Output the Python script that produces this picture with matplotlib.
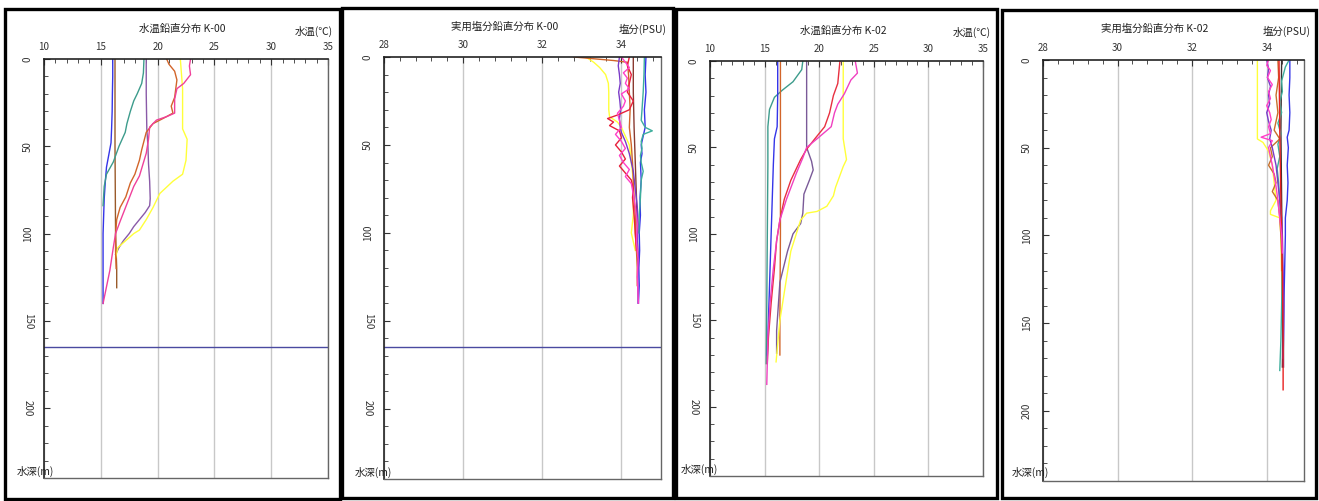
import matplotlib
matplotlib.use('Agg')
import matplotlib.pyplot as plt
import matplotlib.ticker as mticker
from matplotlib.patches import Rectangle

plt.rcParams['font.family'] = ['Noto Sans CJK JP', 'DejaVu Sans']
plt.rcParams['axes.unicode_minus'] = False

# ---- K-00 water temperature (depth m, deg C) ----
t00_blue_z = [0, 10, 20, 30, 40, 48, 55, 62, 70, 80, 90, 100, 110, 120, 130, 140]
t00_blue = [16.05, 16.05, 16.02, 16.0, 15.95, 15.9, 15.7, 15.5, 15.4, 15.3, 15.25, 15.2, 15.2, 15.2, 15.2, 15.2]
t00_brown_z = [0, 50, 100, 120, 131]
t00_brown = [16.25, 16.25, 16.3, 16.4, 16.4]
t00_teal_z = [0, 8, 14, 20, 24, 30, 37, 42, 50, 59, 66, 73, 84]
t00_teal = [18.8, 18.75, 18.6, 18.2, 17.9, 17.6, 17.3, 17.15, 16.6, 16.1, 15.5, 15.3, 15.2]
t00_purple_z = [0, 20, 40, 50, 60, 70, 80, 84, 88, 92, 96, 100, 104, 108, 112]
t00_purple = [19.0, 19.0, 19.05, 19.15, 19.2, 19.3, 19.35, 19.3, 18.9, 18.4, 17.9, 17.5, 17.0, 16.6, 16.3]
t00_orange_z = [0, 3, 7, 12, 22, 27, 31, 34, 37, 42, 52, 58, 66, 71, 79, 85, 92, 100, 110, 120]
t00_orange = [20.8, 21.0, 21.5, 21.7, 21.5, 21.2, 21.35, 20.5, 19.6, 19.0, 18.6, 18.4, 18.0, 17.6, 17.2, 16.7, 16.4, 16.3, 16.3, 16.35]
t00_magenta_z = [0, 4, 9, 14, 17, 23, 31, 33, 35, 39, 46, 54, 67, 73, 83, 93, 100, 108, 121, 140]
t00_magenta = [22.9, 22.8, 22.9, 22.3, 21.7, 21.5, 21.5, 20.8, 19.9, 19.3, 19.2, 19.0, 18.4, 17.9, 17.3, 16.7, 16.3, 16.1, 15.8, 15.2]
t00_yellow_z = [0, 17, 40, 46, 58, 66, 70, 77, 85, 92, 98, 100, 104, 108, 114]
t00_yellow = [22.0, 22.2, 22.2, 22.6, 22.5, 22.2, 21.35, 20.2, 19.6, 19.0, 18.4, 17.9, 17.2, 16.5, 16.3]

# ---- K-00 practical salinity (depth m, PSU) ----
s00_blue_z = [0, 10, 20, 30, 40, 45, 50, 55, 60, 70, 80, 90, 100, 110, 120, 130, 140]
s00_blue = [34.62, 34.6, 34.62, 34.58, 34.6, 34.55, 34.5, 34.52, 34.48, 34.5, 34.47, 34.48, 34.45, 34.46, 34.44, 34.45, 34.43]
s00_teal_z = [0, 10, 20, 30, 36, 40, 42, 44, 48, 52, 56, 60, 65, 70, 80, 90, 100]
s00_teal = [34.58, 34.57, 34.55, 34.52, 34.5, 34.6, 34.78, 34.55, 34.5, 34.52, 34.48, 34.5, 34.55, 34.5, 34.48, 34.45, 34.44]
s00_orange_z = [0, 1, 2, 3, 10, 20, 30, 40, 50, 60, 70, 80, 90, 100, 110, 120, 130]
s00_orange = [32.8, 33.3, 33.8, 34.15, 34.18, 34.2, 34.22, 34.2, 34.25, 34.28, 34.3, 34.32, 34.35, 34.35, 34.38, 34.4, 34.4]
s00_yellow_z = [0, 3, 6, 10, 15, 20, 30, 34, 37, 40, 45, 50, 60, 70, 80, 90, 100, 110]
s00_yellow = [33.1, 33.3, 33.45, 33.6, 33.67, 33.68, 33.68, 33.7, 33.9, 34.0, 34.1, 34.2, 34.25, 34.3, 34.3, 34.3, 34.25, 34.35]
s00_violet_z = [0, 5, 10, 15, 20, 25, 30, 35, 40, 43, 48, 55, 65, 75, 85, 95, 105, 115, 125, 140]
s00_violet = [33.95, 33.92, 33.95, 33.97, 33.93, 33.96, 33.98, 33.95, 33.97, 34.0, 34.1, 34.2, 34.3, 34.35, 34.4, 34.42, 34.4, 34.43, 34.41, 34.42]
s00_magenta_z = [0, 3, 6, 9, 12, 15, 18, 21, 25, 28, 32, 36, 40, 44, 48, 52, 56, 60, 64, 68, 72, 78, 85, 95, 105, 115, 125, 140]
s00_magenta = [34.0, 34.1, 34.2, 34.05, 34.15, 34.1, 34.2, 34.0, 34.1, 34.05, 33.9, 33.95, 34.0, 33.85, 34.0, 34.1, 33.95, 34.05, 34.2, 34.1, 34.25, 34.3, 34.35, 34.4, 34.38, 34.42, 34.4, 34.43]
s00_red_z = [0, 5, 10, 15, 20, 25, 30, 33, 35, 37, 39, 42, 46, 50, 54, 58, 62, 66, 70, 75, 80, 90, 100, 110]
s00_red = [34.2, 34.15, 34.25, 34.2, 34.15, 34.3, 34.2, 33.9, 33.65, 33.8, 33.7, 33.95, 34.0, 33.85, 34.0, 34.1, 33.95, 34.1, 34.25, 34.3, 34.28, 34.32, 34.35, 34.38]
s00_maroon_z = [0, 20, 40, 60, 80, 100, 120]
s00_maroon = [34.3, 34.3, 34.32, 34.35, 34.38, 34.4, 34.42]

# ---- K-02 water temperature ----
t02_teal_z = [0, 5, 12, 17, 21, 28, 38, 60, 100, 140, 175]
t02_teal = [18.5, 18.4, 17.6, 16.6, 15.9, 15.45, 15.3, 15.3, 15.25, 15.2, 15.15]
t02_blue_z = [0, 20, 38, 45, 60, 80, 100, 120, 140, 160, 170]
t02_blue = [16.2, 16.2, 16.15, 15.9, 15.8, 15.7, 15.6, 15.5, 15.4, 15.3, 15.25]
t02_orange_z = [0, 50, 100, 150, 170]
t02_orange = [16.45, 16.45, 16.45, 16.4, 16.4]
t02_purple_z = [0, 50, 58, 63, 69, 77, 88, 94, 100, 110, 128, 156, 169]
t02_purple = [18.85, 18.85, 19.3, 19.45, 19.1, 18.6, 18.5, 18.3, 17.6, 17.1, 16.4, 16.1, 16.1]
t02_red_z = [0, 13, 20, 30, 38, 45, 51, 57, 69, 80, 92, 104, 120, 140, 160, 175]
t02_red = [21.9, 21.7, 21.3, 20.95, 20.5, 19.6, 18.85, 18.3, 17.4, 16.8, 16.4, 16.1, 15.9, 15.6, 15.35, 15.25]
t02_magenta_z = [0, 7, 11, 19, 25, 30, 38, 45, 50, 56, 65, 80, 92, 104, 120, 140, 160, 187]
t02_magenta = [23.3, 23.5, 22.9, 22.3, 21.7, 21.4, 21.1, 19.8, 18.85, 18.5, 17.9, 17.0, 16.4, 16.1, 15.8, 15.5, 15.3, 15.2]
t02_yellow_z = [0, 45, 53, 57, 61, 73, 78, 84, 87, 88, 92, 100, 110, 130, 150, 174]
t02_yellow = [22.2, 22.2, 22.4, 22.5, 22.2, 21.5, 21.3, 20.7, 19.8, 18.85, 18.3, 17.9, 17.4, 16.9, 16.4, 16.05]

# ---- K-02 practical salinity ----
s02_yellow_z = [0, 45, 47, 52, 60, 70, 80, 86, 88, 90, 100, 120, 140, 160, 175]
s02_yellow = [33.75, 33.75, 33.9, 34.05, 34.15, 34.2, 34.25, 34.1, 34.1, 34.35, 34.38, 34.4, 34.42, 34.45, 34.45]
s02_blue_z = [0, 10, 20, 30, 40, 44, 50, 60, 70, 80, 90, 100, 120, 140, 160, 175]
s02_blue = [34.62, 34.62, 34.6, 34.62, 34.6, 34.55, 34.58, 34.55, 34.57, 34.55, 34.5, 34.5, 34.48, 34.46, 34.45, 34.45]
s02_teal_z = [0, 4, 8, 12, 18, 24, 30, 36, 42, 48, 55, 62, 70, 80, 90, 100, 120, 140, 160, 177]
s02_teal = [34.6, 34.5, 34.45, 34.4, 34.42, 34.35, 34.4, 34.3, 34.38, 34.3, 34.35, 34.28, 34.32, 34.35, 34.38, 34.4, 34.42, 34.4, 34.38, 34.35]
s02_magenta_z = [0, 3, 6, 10, 14, 18, 22, 26, 30, 34, 38, 42, 44, 46, 50, 55, 60, 66, 72, 80, 90, 100, 110]
s02_magenta = [34.05, 34.0, 34.1, 34.02, 34.15, 34.05, 34.1, 34.0, 34.08, 34.12, 34.05, 34.1, 33.85, 34.15, 34.05, 34.1, 34.15, 34.2, 34.25, 34.3, 34.35, 34.4, 34.42]
s02_red_z = [0, 40, 80, 120, 160, 188]
s02_red = [34.33, 34.35, 34.38, 34.42, 34.44, 34.44]
s02_purple_z = [0, 5, 10, 15, 20, 25, 30, 35, 40, 45, 50, 55, 60, 70, 80, 90, 100, 120, 140, 160, 170]
s02_purple = [34.0, 34.05, 34.02, 34.1, 34.05, 34.08, 34.0, 34.05, 34.12, 34.08, 34.15, 34.2, 34.25, 34.3, 34.35, 34.4, 34.42, 34.44, 34.46, 34.45, 34.44]
s02_dark_z = [0, 40, 80, 120, 160, 175]
s02_dark = [34.4, 34.38, 34.4, 34.42, 34.43, 34.42]
s02_brown_z = [0, 10, 20, 30, 40, 45, 50, 55, 60, 65, 70, 75, 80, 90, 100, 110, 120]
s02_brown = [34.3, 34.32, 34.25, 34.3, 34.2, 34.35, 34.1, 34.15, 34.05, 34.2, 34.25, 34.15, 34.3, 34.35, 34.38, 34.4, 34.4]

temp_ticks = [10, 15, 20, 25, 30, 35]
sal_ticks = [28, 30, 32, 34]
depth_ticks = [0, 50, 100, 150, 200]
seabed_k00 = 165

W, H = 1319, 501


def fx(x):
    return x / W


def fy(y):
    return 1 - y / H


fig = plt.figure(figsize=(W / 100, H / 100), dpi=100)
fig.patch.set_facecolor('white')

panels = [
    dict(box=(4.5, 9, 339.5, 498.5), ax=(44, 59, 328, 478), kind='temp',
         title='水温鉛直分布 K-00', title_x=182, title_y=29, unit='水温(℃)', unit_x=333, unit_y=31,
         depth_lab_x=54, depth_lab_y=471, rot=[90, 90, 90, 270, 270], seabed=seabed_k00,
         lines=[(t00_blue_z, t00_blue, '#3535e8'), (t00_brown_z, t00_brown, '#9a5a2a'),
                (t00_teal_z, t00_teal, '#3d9c8c'), (t00_purple_z, t00_purple, '#8a5aa8'),
                (t00_yellow_z, t00_yellow, '#ffff3a'), (t00_orange_z, t00_orange, '#d2652a'),
                (t00_magenta_z, t00_magenta, '#f0409a')]),
    dict(box=(342, 8, 672.5, 498), ax=(384, 57, 661, 479), kind='sal',
         title='実用塩分鉛直分布 K-00', title_x=505, title_y=27, unit='塩分(PSU)', unit_x=667, unit_y=29,
         depth_lab_x=392, depth_lab_y=472, rot=[90, 90, 90, 270, 270], seabed=seabed_k00,
         lines=[(s00_yellow_z, s00_yellow, '#ffff3a'), (s00_orange_z, s00_orange, '#d2652a'),
                (s00_maroon_z, s00_maroon, '#8a3a30'), (s00_blue_z, s00_blue, '#3535e8'),
                (s00_teal_z, s00_teal, '#3dae9c'), (s00_violet_z, s00_violet, '#7a3ac8'),
                (s00_red_z, s00_red, '#e8203c'), (s00_magenta_z, s00_magenta, '#ff40c8')]),
    dict(box=(676, 9, 996.5, 498), ax=(710, 61, 983, 476), kind='temp',
         title='水温鉛直分布 K-02', title_x=843, title_y=31, unit='水温(℃)', unit_x=991, unit_y=32,
         depth_lab_x=718, depth_lab_y=469, rot=[90, 90, 90, 270, 270], seabed=None,
         lines=[(t02_teal_z, t02_teal, '#3d9c8c'), (t02_orange_z, t02_orange, '#d2652a'),
                (t02_blue_z, t02_blue, '#3535e8'), (t02_purple_z, t02_purple, '#7a5a98'),
                (t02_yellow_z, t02_yellow, '#ffff3a'), (t02_red_z, t02_red, '#e83040'),
                (t02_magenta_z, t02_magenta, '#f040c0')]),
    dict(box=(1001.5, 10, 1315.5, 498), ax=(1043, 60, 1304, 481), kind='sal',
         title='実用塩分鉛直分布 K-02', title_x=1155, title_y=29, unit='塩分(PSU)', unit_x=1311, unit_y=31,
         depth_lab_x=1049, depth_lab_y=472, rot=[90, 90, 90, 90, 90], seabed=None,
         lines=[(s02_yellow_z, s02_yellow, '#ffff3a'), (s02_dark_z, s02_dark, '#3a3030'),
                (s02_blue_z, s02_blue, '#3535e8'), (s02_teal_z, s02_teal, '#3dae9c'),
                (s02_brown_z, s02_brown, '#c8702a'), (s02_purple_z, s02_purple, '#7a3ac8'),
                (s02_red_z, s02_red, '#e82020'), (s02_magenta_z, s02_magenta, '#ff40c8')]),
]

for p in panels:
    bx0, by0, bx1, by1 = p['box']
    fig.add_artist(Rectangle((fx(bx0), fy(by1)), fx(bx1) - fx(bx0), fy(by0) - fy(by1),
                             transform=fig.transFigure, fill=False, lw=2.4, ec='black'))

    l, t, r, b = p['ax']
    ax = fig.add_axes([fx(l), fy(b), fx(r) - fx(l), fy(t) - fy(b)])

    for z, v, c in p['lines']:
        ax.plot(v, z, color=c, lw=1.0)
    if p['seabed'] is not None:
        ax.axhline(p['seabed'], color='#4a4aa0', lw=1.0)

    if p['kind'] == 'temp':
        ax.set_xlim(10, 35)
        ax.set_xticks(temp_ticks)
        ax.xaxis.set_minor_locator(mticker.MultipleLocator(1))
    else:
        ax.set_xlim(28, 35)
        ax.set_xticks(sal_ticks)
        ax.xaxis.set_minor_locator(mticker.MultipleLocator(0.4))
    ax.set_ylim(240, 0)
    ax.set_yticks(depth_ticks)
    ax.yaxis.set_minor_locator(mticker.MultipleLocator(10))

    ax.xaxis.tick_top()
    ax.tick_params(axis='x', which='both', direction='in', top=True, bottom=False,
                   labelsize=7, pad=5, colors='#333333')
    ax.tick_params(axis='x', which='major', length=4)
    ax.tick_params(axis='x', which='minor', length=3)
    ax.tick_params(axis='y', which='both', direction='in', left=True, right=False,
                   labelsize=7, pad=8, colors='#333333')
    ax.tick_params(axis='y', which='major', length=4)
    ax.tick_params(axis='y', which='minor', length=3)
    for lab, rot in zip(ax.get_yticklabels(), p['rot']):
        lab.set_rotation(rot)
        lab.set_va('center')

    ax.grid(axis='x', which='major', color='#c8c8c8', lw=1.0)
    ax.set_axisbelow(True)
    for side in ['top', 'left']:
        ax.spines[side].set_color('#222222')
        ax.spines[side].set_linewidth(1.2)
    for side in ['right', 'bottom']:
        ax.spines[side].set_color('#666666')
        ax.spines[side].set_linewidth(1.0)

    fig.text(fx(p['title_x']), fy(p['title_y']), p['title'], ha='center', va='center',
             fontsize=7.5, color='#222222')
    fig.text(fx(p['unit_x']), fy(p['unit_y']), p['unit'], ha='right', va='center',
             fontsize=7.5, color='#222222')
    fig.text(fx(p['depth_lab_x']), fy(p['depth_lab_y']), '水深(m)', ha='right', va='center',
             fontsize=7.5, color='#222222')

fig.savefig('out.png', dpi=100, facecolor='white')
